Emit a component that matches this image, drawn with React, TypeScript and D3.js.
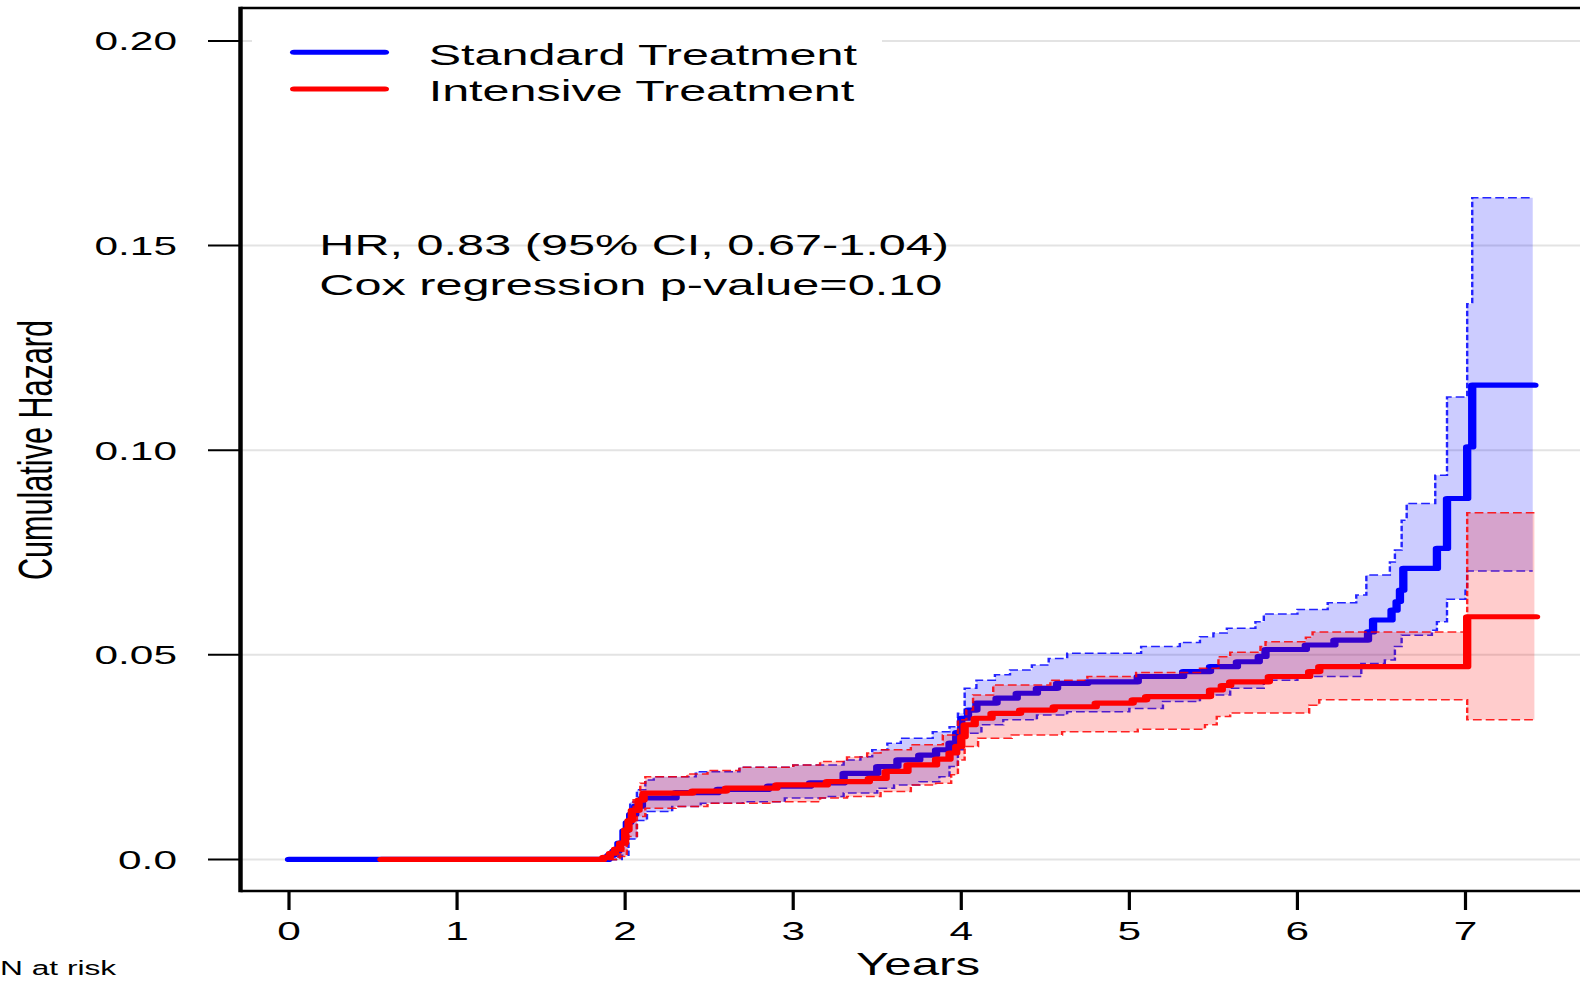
import React from "react";
import * as d3 from "d3";

// ---------- data ----------
const yTicks = [0, 0.05, 0.1, 0.15, 0.2];
const yTickLabels = ["0.0", "0.05", "0.10", "0.15", "0.20"];
const xTicks = [0, 1, 2, 3, 4, 5, 6, 7];

const seriesNames = ["Standard Treatment", "Intensive Treatment"];
const seriesColors = ["#0000FF", "#FF0000"];

const stdTimes = [0, 1.9, 1.93, 1.96, 1.99, 2.01, 2.03, 2.06, 2.1, 2.3, 2.55, 2.85, 3.1, 3.3, 3.5, 3.62, 3.75, 3.85, 3.93, 3.97, 4.0, 4.04, 4.09, 4.21, 4.33, 4.45, 4.57, 4.75, 5.05, 5.32, 5.48, 5.64, 5.77, 5.81, 6.05, 6.22, 6.42, 6.45, 6.56, 6.59, 6.61, 6.63, 6.83, 6.89, 7.01, 7.04, 7.41];
const stdHazard = [0, 0.001, 0.002, 0.004, 0.007, 0.009, 0.011, 0.013, 0.015, 0.0163, 0.0171, 0.0179, 0.0187, 0.021, 0.0227, 0.0243, 0.0255, 0.0268, 0.0284, 0.031, 0.0345, 0.0365, 0.0382, 0.0394, 0.0406, 0.0418, 0.043, 0.0434, 0.0447, 0.0459, 0.0471, 0.0483, 0.0496, 0.0513, 0.0524, 0.0536, 0.0556, 0.0585, 0.0609, 0.063, 0.0658, 0.0711, 0.076, 0.0882, 0.1008, 0.1159, 0.1159];

const stdUpperTimes = [1.9, 1.96, 2.0, 2.03, 2.07, 2.12, 2.17, 2.42, 2.68, 3.0, 3.3, 3.4, 3.47, 3.56, 3.64, 3.83, 3.93, 3.98, 4.02, 4.09, 4.2, 4.29, 4.42, 4.52, 4.63, 5.07, 5.3, 5.42, 5.5, 5.58, 5.75, 5.8, 6.0, 6.18, 6.35, 6.41, 6.55, 6.58, 6.62, 6.65, 6.82, 6.89, 7.01, 7.04, 7.4];
const stdUpper = [0, 0.004, 0.009, 0.014, 0.017, 0.0194, 0.0202, 0.0214, 0.0225, 0.0231, 0.0243, 0.0251, 0.0268, 0.0284, 0.0296, 0.0312, 0.0324, 0.0357, 0.0418, 0.0438, 0.0451, 0.0463, 0.0475, 0.0491, 0.0504, 0.052, 0.053, 0.0544, 0.0553, 0.0565, 0.0581, 0.06, 0.0611, 0.0627, 0.0646, 0.0695, 0.0727, 0.0756, 0.0829, 0.087, 0.0939, 0.113, 0.1358, 0.1617, 0.1617];

const stdLowerTimes = [1.9, 1.98, 2.02, 2.07, 2.13, 2.28, 2.45, 2.7, 2.95, 3.2, 3.3, 3.5, 3.6, 3.75, 3.87, 3.93, 3.98, 4.01, 4.12, 4.25, 4.45, 4.63, 5.0, 5.2, 5.42, 5.6, 5.8, 6.0, 6.38, 6.52, 6.58, 6.62, 6.8, 6.83, 6.89, 7.0, 7.01, 7.4];
const stdLower = [0, 0.001, 0.005, 0.0095, 0.0117, 0.0129, 0.0137, 0.0141, 0.015, 0.0154, 0.0162, 0.0174, 0.0182, 0.019, 0.0202, 0.0227, 0.0268, 0.0308, 0.0329, 0.0341, 0.0353, 0.0361, 0.0369, 0.0386, 0.0402, 0.0418, 0.0438, 0.0447, 0.0479, 0.0487, 0.052, 0.0548, 0.056, 0.0581, 0.0636, 0.0658, 0.0705, 0.0705];

const intTimes = [0.55, 1.87, 1.91, 1.94, 1.97, 2.0, 2.02, 2.04, 2.08, 2.11, 2.4, 2.6, 2.9, 3.2, 3.45, 3.55, 3.68, 3.85, 3.93, 3.97, 4.0, 4.02, 4.08, 4.18, 4.35, 4.55, 4.8, 5.02, 5.1, 5.48, 5.55, 5.6, 5.83, 6.07, 6.13, 7.01, 7.42];
const intHazard = [0, 0.0005, 0.0015, 0.0025, 0.004, 0.0072, 0.0095, 0.012, 0.0145, 0.0162, 0.0167, 0.0174, 0.0182, 0.019, 0.0198, 0.0215, 0.0231, 0.0245, 0.026, 0.0276, 0.03, 0.0329, 0.0345, 0.0357, 0.0365, 0.0373, 0.0382, 0.039, 0.0398, 0.0414, 0.0425, 0.0434, 0.0447, 0.0459, 0.0471, 0.0593, 0.0593];

const intUpperTimes = [1.9, 1.97, 1.99, 2.02, 2.05, 2.09, 2.12, 2.37, 2.49, 2.68, 3.0, 3.16, 3.32, 3.44, 3.52, 3.7, 3.89, 3.98, 4.03, 4.07, 4.19, 4.53, 4.75, 5.04, 5.42, 5.53, 5.6, 5.78, 5.81, 6.05, 6.09, 7.01, 7.41];
const intUpper = [0, 0.002, 0.005, 0.01, 0.0146, 0.0186, 0.0202, 0.0209, 0.0217, 0.0225, 0.0231, 0.0239, 0.025, 0.026, 0.0268, 0.028, 0.0304, 0.0341, 0.0365, 0.0402, 0.0426, 0.0438, 0.0447, 0.0457, 0.0467, 0.0495, 0.0506, 0.052, 0.0532, 0.0543, 0.0556, 0.0847, 0.0847];

const intLowerTimes = [1.9, 1.96, 2.01, 2.07, 2.12, 2.3, 2.49, 2.88, 3.16, 3.32, 3.52, 3.7, 3.85, 3.94, 3.98, 4.02, 4.1, 4.3, 4.6, 5.05, 5.45, 5.52, 5.6, 6.07, 6.13, 7.01, 7.41];
const intLower = [0, 0.0007, 0.0056, 0.0105, 0.0125, 0.0129, 0.0137, 0.0141, 0.015, 0.0154, 0.0166, 0.0182, 0.0186, 0.0207, 0.0243, 0.0276, 0.0296, 0.0304, 0.0312, 0.0318, 0.0329, 0.0349, 0.0358, 0.0377, 0.039, 0.0341, 0.0341];

const annotationLines = ["HR, 0.83 (95% CI, 0.67-1.04)", "Cox regression p-value=0.10"];
const xTitle = "Years";
const yTitle = "Cumulative Hazard";
const riskTitle = "N at risk";

// ---------- layout ----------
const W = 1580;
const H = 981;
const SX = 1.6; // horizontal stretch of the whole picture
const FONT = "'Liberation Sans', Arial, Helvetica, sans-serif";

const x = d3.scaleLinear().domain([0, 7]).range([289 / SX, 1465.5 / SX]);
const y = d3.scaleLinear().domain([0, 0.2]).range([859.4, 41]);

const boxLeft = 240.5 / SX;
const boxRight = 1620 / SX;
const boxTop = 8;
const boxBottom = 891;

function zip(ts: number[], vs: number[]): [number, number][] {
  return ts.map((t, i) => [t, vs[i]]);
}

function stepAt(ts: number[], vs: number[], t: number): number {
  let v = vs[0];
  for (let i = 0; i < ts.length; i++) {
    if (ts[i] <= t + 1e-9) v = vs[i];
    else break;
  }
  return v;
}

const lineGen = d3
  .line<[number, number]>()
  .x((d) => x(d[0]))
  .y((d) => y(d[1]))
  .curve(d3.curveStepAfter);

const areaGen = d3
  .area<[number, number, number]>()
  .x((d) => x(d[0]))
  .y0((d) => y(d[1]))
  .y1((d) => y(d[2]))
  .curve(d3.curveStepAfter);

function bandPoints(lt: number[], lv: number[], ut: number[], uv: number[]): [number, number, number][] {
  const start = Math.max(lt[0], ut[0]);
  const end = Math.min(lt[lt.length - 1], ut[ut.length - 1]);
  const ts = Array.from(new Set([...lt, ...ut]))
    .filter((t) => t >= start && t <= end)
    .sort((a, b) => a - b);
  return ts.map((t) => [t, stepAt(lt, lv, t), stepAt(ut, uv, t)]);
}

const groups = [
  {
    color: seriesColors[0],
    fill: "rgba(0,0,255,0.2)",
    est: zip(stdTimes, stdHazard),
    upper: zip(stdUpperTimes, stdUpper),
    lower: zip(stdLowerTimes, stdLower),
    band: bandPoints(stdLowerTimes, stdLower, stdUpperTimes, stdUpper),
  },
  {
    color: seriesColors[1],
    fill: "rgba(255,0,0,0.2)",
    est: zip(intTimes, intHazard),
    upper: zip(intUpperTimes, intUpper),
    lower: zip(intLowerTimes, intLower),
    band: bandPoints(intLowerTimes, intLower, intUpperTimes, intUpper),
  },
];

export default function App() {
  return (
    <svg
      width={W}
      height={H}
      viewBox={`0 0 ${W} ${H}`}
      style={{ position: "absolute", left: 0, top: 0, display: "block", background: "#fff" }}
    >
      <rect x={0} y={0} width={W} height={H} fill="#fff" />
      <g transform={`scale(${SX},1)`} fontFamily={FONT}>
        {/* grid */}
        {yTicks.map((t) => (
          <line key={"g" + t} x1={boxLeft} x2={boxRight} y1={y(t)} y2={y(t)} stroke="#E3E3E3" strokeWidth={2} />
        ))}

        {/* series */}
        {groups.map((g, i) => (
          <g key={"s" + i}>
            <path d={areaGen(g.band) || ""} fill={g.fill} stroke="none" />
            <path d={lineGen(g.est) || ""} fill="none" stroke={g.color} strokeWidth={5.2} strokeLinecap="round" strokeLinejoin="round" />
            <path d={lineGen(g.upper) || ""} fill="none" stroke={g.color} strokeWidth={1.5} strokeDasharray="5.5,2.5" opacity={0.85} />
            <path d={lineGen(g.lower) || ""} fill="none" stroke={g.color} strokeWidth={1.5} strokeDasharray="5.5,2.5" opacity={0.85} />
          </g>
        ))}

        {/* box */}
        <line x1={boxLeft} x2={boxRight} y1={boxTop} y2={boxTop} stroke="#000" strokeWidth={2.6} />
        <line x1={boxLeft} x2={boxRight} y1={boxBottom} y2={boxBottom} stroke="#000" strokeWidth={2.6} />
        <line x1={boxLeft} x2={boxLeft} y1={boxTop - 1.3} y2={boxBottom + 1.3} stroke="#000" strokeWidth={2.8} />

        {/* y axis */}
        {yTicks.map((t, i) => (
          <g key={"yt" + t}>
            <line x1={208 / SX} x2={boxLeft} y1={y(t)} y2={y(t)} stroke="#000" strokeWidth={2} />
            <text x={177 / SX} y={y(t) + 9.5} textAnchor="end" fontSize={26.5} fill="#000">
              {yTickLabels[i]}
            </text>
          </g>
        ))}
        <text
          transform={`translate(${51.5 / SX},450) rotate(-90)`}
          textAnchor="middle"
          fontSize={30.6}
          fill="#000"
        >
          {yTitle}
        </text>

        {/* x axis */}
        {xTicks.map((t) => (
          <g key={"xt" + t}>
            <line x1={x(t)} x2={x(t)} y1={boxBottom} y2={910} stroke="#000" strokeWidth={2} />
            <text x={x(t)} y={940} textAnchor="middle" fontSize={26.5} fill="#000">
              {String(t)}
            </text>
          </g>
        ))}
        <text x={918 / SX} y={975} textAnchor="middle" fontSize={30.8} fill="#000">
          {xTitle}
        </text>
        <text x={0} y={975} textAnchor="start" fontSize={19.8} fill="#000">
          {riskTitle}
        </text>

        {/* legend */}
        <rect x={252 / SX} y={16} width={(882 - 252) / SX} height={96} fill="#fff" />
        {seriesNames.map((name, i) => {
          const ly = [52.3, 89][i];
          return (
            <g key={"lg" + i}>
              <line x1={294 / SX} x2={385 / SX} y1={ly} y2={ly} stroke={seriesColors[i]} strokeWidth={5} strokeLinecap="round" />
              <text x={428.7 / SX} y={[65, 100.7][i]} fontSize={30.3} fill="#000">
                {name}
              </text>
            </g>
          );
        })}

        {/* annotation */}
        {annotationLines.map((l, i) => (
          <text key={"an" + i} x={319.3 / SX} y={[255, 295][i]} fontSize={30.4} fill="#000">
            {l}
          </text>
        ))}
      </g>
    </svg>
  );
}
